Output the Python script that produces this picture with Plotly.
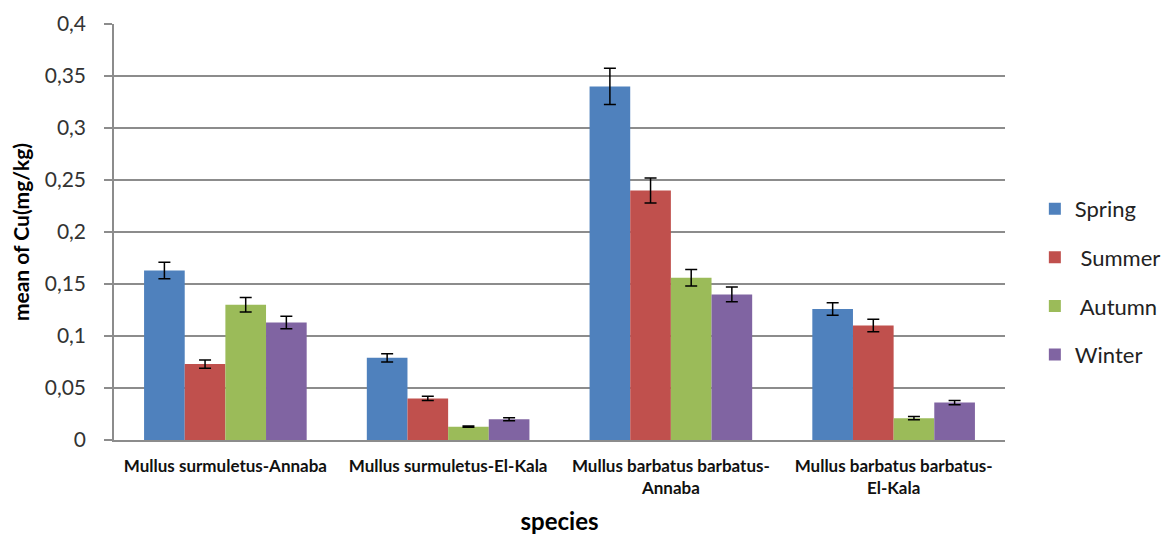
import plotly.graph_objects as go

categories = ["Mullus surmuletus-Annaba", "Mullus surmuletus-El-Kala",
              "Mullus barbatus barbatus-<br>Annaba", "Mullus barbatus barbatus-<br>El-Kala"]
seasons = ["Spring", " Summer", " Autumn", "Winter"]
spring = [0.163, 0.079, 0.340, 0.126]
summer = [0.073, 0.040, 0.240, 0.110]
autumn = [0.130, 0.0128, 0.156, 0.021]
winter = [0.113, 0.020, 0.140, 0.036]
spring_err = [0.008, 0.004, 0.0175, 0.006]
summer_err = [0.004, 0.002, 0.012, 0.006]
autumn_err = [0.007, 0.0006, 0.008, 0.0015]
winter_err = [0.006, 0.0015, 0.007, 0.002]
colors = ["#4F81BD", "#C0504D", "#9BBB59", "#8064A2"]
y_ticks = [0, 0.05, 0.1, 0.15, 0.2, 0.25, 0.3, 0.35, 0.4]

fig = go.Figure()
for i, (name, vals, errs) in enumerate(zip(seasons, [spring, summer, autumn, winter],
                                           [spring_err, summer_err, autumn_err, winter_err])):
    fig.add_trace(go.Bar(
        x=categories, y=vals, name=name, legendgroup=str(i),
        marker=dict(color=colors[i], line=dict(width=0)),
        error_y=dict(type="data", array=errs, color="black", thickness=1.5, width=6),
    ))

fig.update_layout(
    width=1176, height=535,
    barmode="group", bargap=0.27, bargroupgap=0,
    separators=", ",
    paper_bgcolor="white", plot_bgcolor="white",
    margin=dict(l=106, r=179, t=16, b=103, autoexpand=False),
    font=dict(family="Lato, Open Sans, sans-serif", color="#000000"),
    legend=dict(x=1.0335, y=0.38, xanchor="left", yanchor="middle",
                font=dict(size=22, color="#222222"),
                traceorder="grouped", tracegroupgap=17,
                itemwidth=30),
    showlegend=True,
)
fig.update_xaxes(
    automargin=False,
    showline=True, linecolor="#8C8C8C", linewidth=1.5,
    tickfont=dict(size=17, family="Lato, sans-serif", weight="bold", color="#111111"),
    ticklabelstandoff=10,
    title=dict(text="<b>species</b>", font=dict(size=24), standoff=16),
    ticks="",
)
fig.update_yaxes(
    automargin=False,
    range=[0, 0.4], tickvals=y_ticks, tickformat=",",
    showgrid=True, gridcolor="#8C8C8C", gridwidth=1.5,
    showline=True, linecolor="#8C8C8C", linewidth=1.5,
    ticks="outside", ticklen=8, tickcolor="#8C8C8C", tickwidth=1.5,
    ticklabelstandoff=14,
    tickfont=dict(size=21, color="#333333"),
    title=dict(text="<b>mean of Cu(mg/kg)</b>", font=dict(size=21), standoff=13),
    zeroline=False,
)
fig.write_html("out.html")
